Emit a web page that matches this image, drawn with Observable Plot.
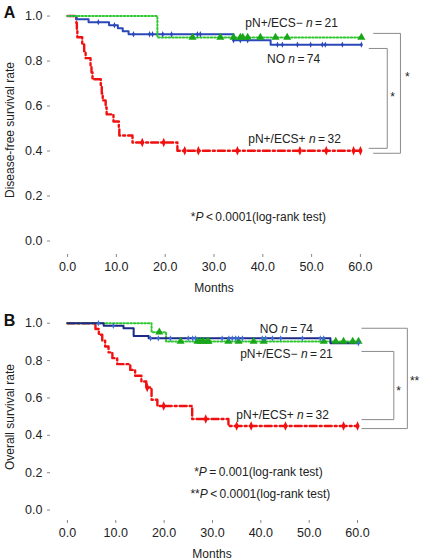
<!DOCTYPE html>
<html><head><meta charset="utf-8">
<script src="https://cdn.jsdelivr.net/npm/d3@7"></script>
<script src="https://cdn.jsdelivr.net/npm/@observablehq/plot@0.6"></script>
<style>
body{margin:0;background:#fff;font-family:"Liberation Sans",Arial,sans-serif;}
#chart{width:422px;}
svg{display:block;}
</style></head><body><div id="chart"></div>
<script>
// ---------- Panel A: disease-free survival ----------
const aNoTimes = [0, 1.8, 4.3, 8.5, 10.3, 11.3, 12.5, 34.0, 41.6];
const aNoSurv  = [1, 0.986, 0.973, 0.959, 0.946, 0.932, 0.919, 0.892, 0.873];
const aNoCens  = [6.3, 9.6, 13.5, 16.8, 17.4, 19.5, 21.3, 26.6, 27.2, 34.0, 35.4, 36.9, 43.0, 44.0, 47.1, 49.8, 52.2, 52.8, 56.3, 60.2];

const aNegTimes = [0, 18.4];
const aNegSurv  = [1, 0.905];
const aNegCens  = [25.6, 31.3, 34.0, 35.4, 35.9, 36.9, 39.5, 42.6, 45.0, 60.2];

const aPosTimes = [0, 1.8, 1.9, 2.0, 3.0, 3.4, 3.7, 4.7, 4.9, 5.1, 6.8, 7.0, 7.2, 7.8, 8.0, 9.4, 10.5, 10.6, 13.3, 22.5];
const aPosSurv  = [1, 0.969, 0.938, 0.906, 0.875, 0.844, 0.813, 0.781, 0.75, 0.719, 0.688, 0.656, 0.625, 0.594, 0.563, 0.531, 0.5, 0.469, 0.438, 0.401];
const aPosCens  = [15.3, 19.7, 24.0, 26.8, 34.8, 47.6, 53.0, 58.6, 60.0];

// ---------- Panel B: overall survival ----------
const bNoTimes = [0, 7.5, 11.6, 13.7, 16.8, 54.4];
const bNoSurv  = [1, 0.986, 0.973, 0.932, 0.919, 0.893];
const bNoCens  = [6.4, 9.5, 17.2, 18.8, 21.3, 25.0, 25.9, 26.5, 32.0, 33.4, 34.1, 34.8, 35.4, 36.2, 40.3, 41.0, 42.4, 44.1, 48.6, 52.3, 53.0, 60.2];

const bNegTimes = [0, 17.4, 20.4];
const bNegSurv  = [1, 0.952, 0.902];
const bNegCens  = [19.0, 23.4, 26.9, 27.5, 28.1, 28.9, 29.2, 33.3, 35.4, 38.5, 40.6, 53.0, 55.5, 57.1, 59.0, 60.2];

const bPosTimes = [0, 5.8, 6.5, 7.2, 7.8, 8.5, 9.3, 10.3, 13.0, 14.0, 15.3, 16.3, 17.4, 18.6, 25.8, 33.3];
const bPosSurv  = [1, 0.969, 0.938, 0.906, 0.875, 0.844, 0.813, 0.781, 0.75, 0.719, 0.688, 0.656, 0.590, 0.557, 0.487, 0.450];
const bPosCens  = [16.5, 19.9, 28.6, 35.0, 38.0, 45.1, 57.1, 60.0];

// ---------- axes / labels ----------
const xTicks = [0, 10, 20, 30, 40, 50, 60];
const yTicks = [0, 0.2, 0.4, 0.6, 0.8, 1.0];

const aLabels = [
  {t: 45.9, s: 0.950, text: "pN+/ECS\u2212 _n_\u2009=\u200921"},
  {t: 46.3, s: 0.790, text: "NO _n_\u2009=\u200974"},
  {t: 46.5, s: 0.434, text: "pN+/ECS+ _n_\u2009=\u200932"},
  {t: 39.1, s: 0.088, text: "*_P_\u2009<\u20090.0001(log-rank test)"}
];
const bLabels = [
  {t: 45.3, s: 0.950, text: "NO _n_\u2009=\u200974"},
  {t: 45.3, s: 0.816, text: "pN+/ECS\u2212 _n_\u2009=\u200921"},
  {t: 44.5, s: 0.489, text: "pN+/ECS+ _n_\u2009=\u200932"},
  {t: 39.5, s: 0.184, text: "*_P_\u2009=\u20090.001(log-rank test)"},
  {t: 39.9, s: 0.066, text: "**_P_\u2009<\u20090.0001(log-rank test)"}
];

// significance brackets (months / survival units)
const aBrackets = [
  {x1: 62.7, x2: 68.2, top: 0.923, bottom: 0.390, star: "*", sx: 69.6, sy: 0.73},
  {x1: 61.8, x2: 65.5, top: 0.856, bottom: 0.412, star: "*", sx: 66.6, sy: 0.64}
];
const bBrackets = [
  {x1: 60.9, x2: 70.3, top: 0.973, bottom: 0.436, star: "**", sx: 71.8, sy: 0.69},
  {x1: 60.9, x2: 67.5, top: 0.849, bottom: 0.484, star: "*", sx: 68.5, sy: 0.635}
];

// ---------- helpers ----------
function kmSteps(times, surv, cens) {
  const end = Math.max(d3.max(times), d3.max(cens));
  const pts = times.map((t, i) => ({t, s: surv[i]}));
  pts.push({t: end, s: surv[surv.length - 1]});
  return pts;
}
function censPts(times, surv, cens) {
  return cens.map(c => ({t: c, s: surv[d3.bisectRight(times, c) - 1]}));
}
function bracketPts(list) {
  const out = [];
  list.forEach((b, k) => {
    out.push({k, t: b.x1, s: b.top}, {k, t: b.x2, s: b.top}, {k, t: b.x2, s: b.bottom}, {k, t: b.x1, s: b.bottom});
  });
  return out;
}
const tallDiamond = (w, h) => ({
  draw(ctx, size) {
    const r = Math.sqrt(size / Math.PI);
    ctx.moveTo(0, -r * h); ctx.lineTo(r * w, 0); ctx.lineTo(0, r * h); ctx.lineTo(-r * w, 0); ctx.closePath();
  }
});
function italicize(svg) {
  svg.querySelectorAll("text").forEach(el => {
    const s = el.textContent;
    if (!s.includes("_")) return;
    el.textContent = "";
    s.split("_").forEach((part, i) => {
      if (!part) return;
      const ts = document.createElementNS("http://www.w3.org/2000/svg", "tspan");
      ts.textContent = part;
      if (i % 2 === 1) ts.setAttribute("font-style", "italic");
      el.appendChild(ts);
    });
  });
}

const RED = "#f01010", GREEN = "#2ec82e", GREEN_M = "#1aa61a";
const baseStyle = {fontFamily: "'Liberation Sans', Arial, sans-serif", fontSize: "12px", color: "#222", background: "white"};

function panel(cfg) {
  const marks = [
    Plot.axisX({ticks: xTicks, tickFormat: d3.format(".1f"), tickSize: 3, tickPadding: 5, stroke: "#888", fill: "#222", line: true, label: null, fontSize: 12.5}),
    Plot.axisY({ticks: yTicks, tickFormat: d3.format(".1f"), tickSize: 3, tickPadding: 5, stroke: "#888", fill: "#222", line: true, label: null, fontSize: 12.5}),
    Plot.text(["Months"], {frameAnchor: "bottom", textAnchor: "middle", dy: 37, lineAnchor: "bottom", fontSize: 12, fill: "#222"}),
    Plot.text([cfg.ylabel], {frameAnchor: "left", textAnchor: "middle", lineAnchor: "middle", dx: -40, rotate: -90, fontSize: 12, fill: "#222"}),
    Plot.text([cfg.letter], {frameAnchor: "top-left", textAnchor: "middle", lineAnchor: "middle", dx: -41, dy: cfg.letterDy, fontSize: 16, fontWeight: "bold", fill: "#111"}),
    Plot.line(bracketPts(cfg.brackets), {x: "t", y: "s", z: "k", stroke: "#8a8a8a", strokeWidth: 1}),
    Plot.text(cfg.brackets, {x: "sx", y: "sy", text: "star", fontSize: 12, fill: "#222"}),
    Plot.text(cfg.labels, {x: "t", y: "s", text: "text", lineAnchor: "bottom", fontSize: 12, fill: "#222"})
  ];
  for (const c of cfg.curves) {
    marks.push(Plot.line(kmSteps(c.times, c.surv, c.cens), {x: "t", y: "s", curve: "step-after", stroke: c.color, strokeWidth: c.width, strokeDasharray: c.dash}));
  }
  for (const c of cfg.curves) {
    marks.push(Plot.dot(censPts(c.times, c.surv, c.cens), {x: "t", y: "s", symbol: c.symbol, r: c.r, fill: c.mcolor, stroke: "none"}));
  }
  const svg = Plot.plot({
    width: 422, height: cfg.height,
    marginLeft: 50, marginRight: cfg.mr, marginTop: cfg.mt, marginBottom: cfg.mb,
    x: {domain: cfg.xdom}, y: {domain: cfg.ydom},
    style: baseStyle,
    marks
  });
  italicize(svg);
  return svg;
}

const chart = document.getElementById("chart");
chart.appendChild(panel({
  letter: "A", letterDy: 7, ylabel: "Disease-free survival rate",
  height: 298, mr: 45, mt: 5, mb: 44, xdom: [-3.5, 63.5], ydom: [-0.06, 1.047],
  labels: aLabels, brackets: aBrackets,
  curves: [
    {times: aPosTimes, surv: aPosSurv, cens: aPosCens, color: RED, width: 2.4, dash: "7,3,2,3", symbol: tallDiamond(0.7, 1.6), r: 3, mcolor: RED},
    {times: aNoTimes, surv: aNoSurv, cens: aNoCens, color: "#2a48b8", width: 2, dash: null, symbol: tallDiamond(0.7, 1.6), r: 2, mcolor: "#2a48b8"},
    {times: aNegTimes, surv: aNegSurv, cens: aNegCens, color: GREEN, width: 2, dash: "1.5,2", symbol: "triangle", r: 3, mcolor: GREEN_M}
  ]
}));
chart.appendChild(panel({
  letter: "B", letterDy: 7, ylabel: "Overall survival rate",
  height: 261, mr: 49, mt: 15, mb: 39, xdom: [-3.5, 63.3], ydom: [-0.056, 1.052],
  labels: bLabels, brackets: bBrackets,
  curves: [
    {times: bPosTimes, surv: bPosSurv, cens: bPosCens, color: RED, width: 2.4, dash: "7,3,2,3", symbol: tallDiamond(0.7, 1.6), r: 3, mcolor: RED},
    {times: bNegTimes, surv: bNegSurv, cens: bNegCens, color: GREEN, width: 2, dash: "1.5,2", symbol: "triangle", r: 3, mcolor: GREEN_M},
    {times: bNoTimes, surv: bNoSurv, cens: bNoCens, color: "#1b2a86", width: 2, dash: null, symbol: tallDiamond(0.7, 1.6), r: 2, mcolor: "#3b6ad8"}
  ]
}));
</script></body></html>
